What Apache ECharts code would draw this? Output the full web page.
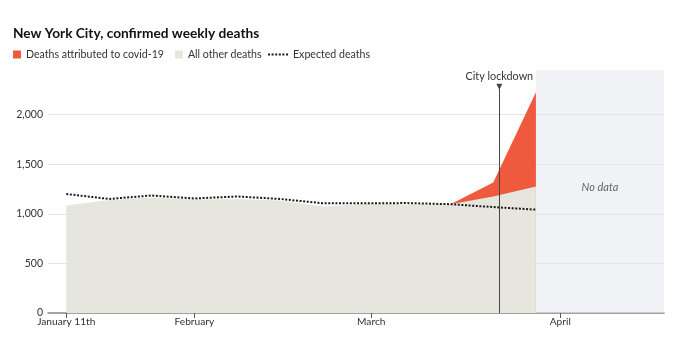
<!DOCTYPE html>
<html>
<head>
<meta charset="utf-8">
<script src="https://cdn.jsdelivr.net/npm/echarts@6/dist/echarts.min.js"></script>
<style>
html,body{margin:0;padding:0;background:#fff;}
#c{width:680px;height:342px;}
</style>
</head>
<body>
<div id="c"></div>
<script>
// ---- data ----
const weeks = ['2020-01-11','2020-01-18','2020-01-25','2020-02-01','2020-02-08','2020-02-15',
               '2020-02-22','2020-02-29','2020-03-07','2020-03-14','2020-03-21','2020-03-28'];
const otherDeaths = [1085, 1140, 1165, 1145, 1150, 1135, 1075, 1100, 1095, 1097, 1175, 1275];
const covidDeaths = [0, 0, 0, 0, 0, 0, 0, 0, 0, 0, 140, 950];
const expectedDeaths = [1200, 1150, 1185, 1155, 1175, 1150, 1107, 1107, 1108, 1097, 1068, 1042];
const tickDates = ['2020-01-11','2020-02-01','2020-03-01','2020-04-01'];
const tickLabels = ['January 11th','February','March','April'];
const yTicks = [0, 500, 1000, 1500, 2000];
const lockdownDate = '2020-03-22';
const noDataStart = '2020-03-28';
const axisStart = '2020-01-08';
const axisEnd = '2020-04-18';

function dayNum(s){ return (Date.parse(s + 'T00:00:00Z') - Date.UTC(2020,0,1)) / 864e5; }
const xs = weeks.map(dayNum);
const tickVals = tickDates.map(dayNum);
const labelMap = {};
tickVals.forEach((v,i)=>{ labelMap[v] = tickLabels[i]; });

// total (covid + other) band, only where covid deaths exist (plus the week before)
const totalData = [];
xs.forEach((x,i)=>{
  if (covidDeaths[i] > 0 || (i + 1 < xs.length && covidDeaths[i+1] > 0)) {
    totalData.push([x, otherDeaths[i] + covidDeaths[i]]);
  }
});

const FONT = 'Lato, "Noto Sans", sans-serif';
const RED = '#ef5a3f';
const BEIGE = '#e7e6de';

const chart = echarts.init(document.getElementById('c'), null, {renderer:'canvas'});
chart.setOption({
  animation: false,
  textStyle: {fontFamily: FONT},
  title: {
    text: 'New York City, confirmed weekly deaths',
    left: 13, top: 27, padding: 0,
    textStyle: {fontFamily: FONT, fontSize: 13.7, fontWeight: 'bold', color: '#121212'}
  },
  legend: [{
    left: 13, top: 49, padding: 0,
    itemWidth: 8, itemHeight: 8, itemGap: 11,
    icon: 'rect',
    selectedMode: false,
    textStyle: {fontFamily: FONT, fontSize: 10.6, color: '#333'},
    data: ['Deaths attributed to covid-19', 'All other deaths']
  }, {
    left: 267, top: 49, padding: 0,
    itemWidth: 20, itemHeight: 8,
    selectedMode: false,
    itemStyle: {opacity: 0},
    textStyle: {fontFamily: FONT, fontSize: 10.6, color: '#333'},
    data: ['Expected deaths']
  }],
  grid: {left: 48, right: 16, top: 70, bottom: 29, containLabel: false},
  xAxis: {
    type: 'value',
    min: dayNum(axisStart), max: dayNum(axisEnd),
    axisLine: {show: true, lineStyle: {color: '#8a8a8a', width: 1.5}},
    axisTick: {show: true, customValues: tickVals, length: 5, lineStyle: {color: '#555', width: 1}},
    axisLabel: {
      customValues: tickVals, margin: 4,
      formatter: v => labelMap[v] || '',
      fontFamily: FONT, fontSize: 10.2, color: '#333'
    },
    splitLine: {show: false}
  },
  yAxis: {
    type: 'value',
    min: 0, max: 2450, interval: 500,
    axisLine: {show: false},
    axisTick: {show: false},
    axisLabel: {
      showMaxLabel: false, margin: 5,
      formatter: v => (yTicks.indexOf(v) >= 0 ? v.toLocaleString('en-US') : ''),
      fontFamily: FONT, fontSize: 10.5, color: '#333'
    },
    splitLine: {show: true, showMaxLine: false, lineStyle: {color: '#e4e4e4', width: 1}}
  },
  series: [{
    name: 'Deaths attributed to covid-19',
    type: 'line', symbol: 'none',
    data: totalData,
    lineStyle: {width: 0},
    itemStyle: {color: RED},
    areaStyle: {color: RED, opacity: 1},
    z: 2
  }, {
    name: 'All other deaths',
    type: 'line', symbol: 'none', smooth: false,
    data: xs.map((x,i)=>[x, otherDeaths[i]]),
    lineStyle: {width: 0},
    itemStyle: {color: BEIGE},
    areaStyle: {color: BEIGE, opacity: 1},
    z: 3,
    markArea: {
      silent: true,
      itemStyle: {color: 'rgba(230,232,236,0.55)'},
      label: {show: true, position: 'inside', formatter: 'No data', offset: [0, -4],
              fontFamily: FONT, fontSize: 11, fontStyle: 'italic', color: '#666'},
      data: [[{xAxis: dayNum(noDataStart)}, {xAxis: dayNum(axisEnd)}]]
    }
  }, {
    name: 'Expected deaths',
    type: 'line', symbol: 'none',
    data: xs.map((x,i)=>[x, expectedDeaths[i]]),
    lineStyle: {color: '#1a1a1a', width: 2, type: [2, 1.6]},
    itemStyle: {color: '#1a1a1a'},
    z: 4,
    markLine: {
      silent: true,
      symbol: ['none', 'triangle'],
      symbolSize: 6,
      lineStyle: {color: '#444', width: 1, type: 'solid'},
      label: {show: true, position: 'end', distance: 5, formatter: 'City lockdown',
              fontFamily: FONT, fontSize: 10.8, color: '#333'},
      data: [[
        {coord: [dayNum(lockdownDate), 0], symbol: 'none'},
        {coord: [dayNum(lockdownDate), 2280], symbol: 'triangle', symbolRotate: 180}
      ]]
    }
  }]
});
</script>
</body>
</html>
